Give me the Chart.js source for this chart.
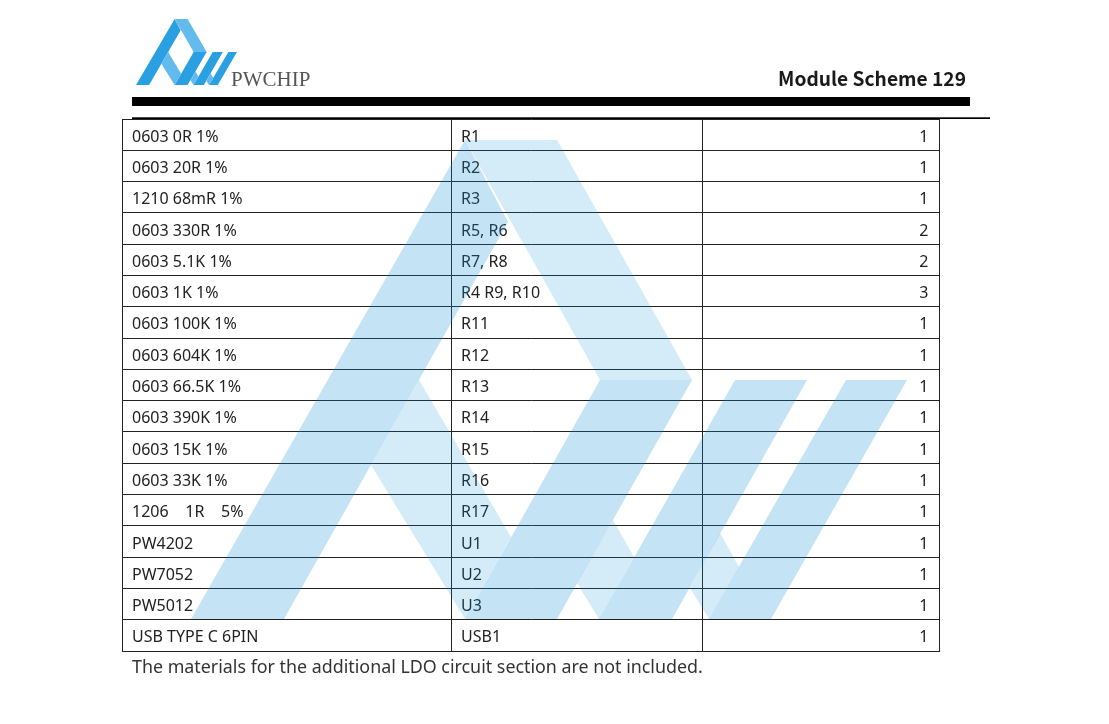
<!DOCTYPE html>
<html><head><meta charset="utf-8">
<style>html,body{margin:0;padding:0;background:#fff}canvas{display:block}</style>
<script src="https://cdn.jsdelivr.net/npm/chart.js@4"></script>
</head><body><canvas id="c" width="1109" height="724"></canvas>
<script>
const parts = ["0603 0R 1%","0603 20R 1%","1210 68mR 1%","0603 330R 1%","0603 5.1K 1%","0603 1K 1%","0603 100K 1%","0603 604K 1%","0603 66.5K 1%","0603 390K 1%","0603 15K 1%","0603 33K 1%","1206\u00a0\u00a0\u00a0\u00a01R\u00a0\u00a0\u00a0\u00a05%","PW4202","PW7052","PW5012","USB TYPE C 6PIN"];
const refs = ["R1","R2","R3","R5, R6","R7, R8","R4 R9, R10","R11","R12","R13","R14","R15","R16","R17","U1","U2","U3","USB1"];
const quantities = [1,1,1,2,2,3,1,1,1,1,1,1,1,1,1,1,1];
const columnEdges = [122,451,702,939.5];
const title = "Module Scheme 129";
const brand = "PWCHIP";
const footnote = "The materials for the additional LDO circuit section are not included.";
const darkShapes = [
  [[191,619],[465,140],[508,222],[284,619]],
  [[600,380],[692,380],[557,619],[465,619]],
  [[735,380],[807,380],[672,619],[599,619]],
  [[846,380],[907,380],[771,619],[709,619]]
];
const lightShapes = [
  [[465,140],[557,140],[692,380],[600,380]],
  [[419,380],[511,537],[465,619],[371,465]],
  [[613,520],[634,557],[599,619],[577,583]],
  [[720,533],[739,567],[709,619],[690,588]]
];
const BODY = '"Noto Sans"';
const decor = {
  id:'decor',
  afterDraw(chart){
    const {ctx} = chart, x = chart.scales.x, y = chart.scales.y, p = chart.scales.page;
    const poly = (shape, color, f) => {
      ctx.fillStyle = color; ctx.beginPath();
      shape.forEach((pt,i)=>{ const q = f(pt); i ? ctx.lineTo(q[0],q[1]) : ctx.moveTo(q[0],q[1]); });
      ctx.closePath(); ctx.fill();
    };
    const toPx = pt => [x.getPixelForValue(pt[0]), p.getPixelForValue(pt[1])];
    ctx.save();
    // rules
    ctx.fillStyle='#000';
    ctx.fillRect(x.getPixelForValue(132),p.getPixelForValue(97),838,9);
    ctx.fillRect(x.getPixelForValue(132),p.getPixelForValue(117.3),858,1.7);
    // header
    ctx.fillStyle='#1a1a1a'; ctx.textBaseline='alphabetic';
    ctx.font='700 19.2px "Noto Sans CJK SC"'; ctx.textAlign='right';
    ctx.fillText(title,966,85.5);
    ctx.fillStyle='#555'; ctx.font='21px "Liberation Serif"'; ctx.textAlign='left';
    ctx.fillText(brand,231,86);
    // table text
    ctx.fillStyle='#222'; ctx.font='16px '+BODY; ctx.textBaseline='middle';
    refs.forEach((r,i)=>{
      const py = y.getPixelForValue(i)+2.5;
      ctx.textAlign='left';
      ctx.fillText(parts[i], x.getPixelForValue(columnEdges[0]+10), py);
      ctx.fillText(r, x.getPixelForValue(columnEdges[1]+10), py);
      ctx.textAlign='right';
      ctx.fillText(String(quantities[i]), x.getPixelForValue(columnEdges[3]-11), py);
    });
    // footnote
    ctx.textBaseline='alphabetic'; ctx.textAlign='left'; ctx.font='17.85px '+BODY; ctx.fillStyle='#333';
    ctx.fillText(footnote,132,672.5);
    // watermark, on top of the table
    darkShapes.forEach(s=>poly(s,'rgba(19,144,217,0.25)',toPx));
    lightShapes.forEach(s=>poly(s,'rgba(19,144,217,0.18)',toPx));
    // logo: the same figure, small
    const toLogo = pt => {
      const q=[136+(pt[0]-191)*0.141, 19+(pt[1]-140)*0.138];
      return [x.getPixelForValue(q[0]), p.getPixelForValue(q[1])];
    };
    ctx.filter='blur(0.4px)';
    darkShapes.forEach(s=>poly(s,'#2AA0E2',toLogo));
    lightShapes.forEach(s=>poly(s,'#62BBEC',toLogo));
    ctx.filter='none';
    ctx.restore();
  }
};
new Chart(document.getElementById('c'),{
  type:'scatter',
  data:{ labels:parts, datasets:[{ label:'Qty', data:quantities.map((q,i)=>({x:columnEdges[3],y:i})), pointRadius:0, showLine:false }] },
  options:{
    responsive:false, animation:false, events:[],
    layout:{padding:{left:122,right:1109-939.5,top:119,bottom:724-651}},
    plugins:{legend:{display:false},tooltip:{enabled:false},title:{display:false}},
    scales:{
      x:{ type:'linear', min:columnEdges[0], max:columnEdges[3], position:'bottom',
          afterBuildTicks(s){ s.ticks = columnEdges.map(v=>({value:v})); },
          afterFit(s){ s.height=0; },
          ticks:{display:false}, grid:{color:'#222',lineWidth:1,drawTicks:false}, border:{color:'#222',width:1} },
      y:{ type:'category', labels:parts, offset:true, position:'left',
          afterFit(s){ s.width=0; },
          ticks:{display:false,autoSkip:false},
          grid:{color:'#222',lineWidth:1,offset:true,drawTicks:false}, border:{color:'#222',width:1} },
      page:{ type:'linear', axis:'y', position:'right', display:false, min:119, max:651, reverse:true }
    }
  },
  plugins:[decor]
});
</script></body></html>
